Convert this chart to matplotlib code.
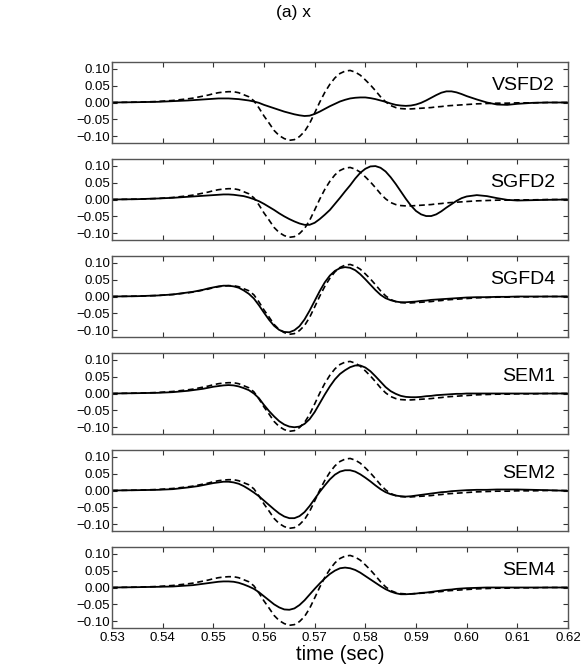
import matplotlib
matplotlib.use("Agg")
import matplotlib.pyplot as plt
from matplotlib.ticker import FuncFormatter
import numpy as np

plt.rcParams['font.family'] = ['Liberation Sans', 'DejaVu Sans']

# time samples (sec)
time = [0.530, 0.535, 0.539, 0.542,
        0.545, 0.546, 0.547, 0.548, 0.549, 0.550, 0.551, 0.552, 0.553, 0.554,
        0.555, 0.556, 0.557, 0.558, 0.559, 0.560, 0.561, 0.562, 0.563, 0.564,
        0.565, 0.566, 0.567, 0.568, 0.569, 0.570, 0.571, 0.572, 0.573, 0.574,
        0.575, 0.576, 0.577, 0.578, 0.579, 0.580, 0.581, 0.582, 0.583, 0.584,
        0.585, 0.586, 0.587, 0.588, 0.589, 0.590, 0.591, 0.592, 0.593, 0.594,
        0.595, 0.596, 0.597, 0.598, 0.599, 0.600,
        0.602, 0.604, 0.606, 0.608, 0.610, 0.613, 0.616, 0.620]

# reference solution (dashed, same in every panel)
reference = [0.000, 0.001, 0.003, 0.006,
             0.011, 0.013, 0.016, 0.019, 0.022, 0.026, 0.029, 0.031, 0.032, 0.032,
             0.029, 0.023, 0.017, 0.005, -0.016, -0.040, -0.061, -0.083, -0.098, -0.107,
             -0.112, -0.110, -0.101, -0.086, -0.062, -0.031, 0.001, 0.030, 0.054, 0.073,
             0.086, 0.093, 0.095, 0.090, 0.081, 0.067, 0.052, 0.035, 0.017, 0.002,
             -0.009, -0.015, -0.018, -0.019, -0.019, -0.018, -0.017, -0.016, -0.015, -0.013,
             -0.012, -0.010, -0.009, -0.008, -0.007, -0.006,
             -0.004, -0.003, -0.002, -0.002, -0.001, -0.001, 0.000, 0.000]

vsfd2 = [0.000, 0.001, 0.002, 0.004,
         0.006, 0.007, 0.008, 0.009, 0.010, 0.011, 0.012, 0.012, 0.012, 0.011,
         0.010, 0.008, 0.006, 0.003, -0.001, -0.007, -0.012, -0.017, -0.022, -0.027,
         -0.031, -0.035, -0.038, -0.040, -0.039, -0.034, -0.027, -0.019, -0.011, -0.004,
         0.003, 0.008, 0.012, 0.014, 0.015, 0.015, 0.013, 0.010, 0.006, 0.002,
         -0.003, -0.007, -0.009, -0.010, -0.009, -0.006, -0.001, 0.006, 0.014, 0.022,
         0.029, 0.033, 0.033, 0.030, 0.025, 0.019,
         0.009, 0.000, -0.006, -0.007, -0.004, -0.001, 0.000, 0.000]

sgfd2 = [0.000, 0.001, 0.003, 0.005,
         0.008, 0.009, 0.010, 0.011, 0.012, 0.013, 0.014, 0.015, 0.015, 0.014,
         0.012, 0.010, 0.006, 0.001, -0.005, -0.013, -0.022, -0.031, -0.041, -0.050,
         -0.058, -0.065, -0.071, -0.075, -0.075, -0.069, -0.058, -0.045, -0.031, -0.013,
         0.005, 0.024, 0.042, 0.062, 0.079, 0.091, 0.098, 0.099, 0.094, 0.083,
         0.066, 0.046, 0.024, 0.002, -0.018, -0.034, -0.044, -0.049, -0.049, -0.044,
         -0.035, -0.024, -0.014, -0.004, 0.004, 0.009,
         0.013, 0.010, 0.004, -0.001, -0.003, -0.002, -0.001, 0.000]

sgfd4 = [0.000, 0.001, 0.003, 0.006,
         0.012, 0.014, 0.017, 0.020, 0.024, 0.027, 0.030, 0.032, 0.032, 0.030,
         0.026, 0.018, 0.008, -0.006, -0.026, -0.048, -0.069, -0.087, -0.099, -0.105,
         -0.106, -0.100, -0.088, -0.068, -0.042, -0.013, 0.016, 0.042, 0.062, 0.076,
         0.084, 0.087, 0.085, 0.078, 0.066, 0.051, 0.035, 0.019, 0.005, -0.005,
         -0.011, -0.015, -0.017, -0.017, -0.016, -0.015, -0.013, -0.012, -0.010, -0.009,
         -0.008, -0.007, -0.006, -0.005, -0.004, -0.003,
         -0.002, -0.002, -0.001, -0.001, 0.000, 0.000, 0.000, 0.000]

sem1 = [0.000, 0.001, 0.002, 0.004,
        0.008, 0.010, 0.012, 0.014, 0.017, 0.020, 0.022, 0.024, 0.025, 0.024,
        0.021, 0.016, 0.010, 0.000, -0.014, -0.034, -0.052, -0.068, -0.082, -0.092,
        -0.098, -0.100, -0.098, -0.090, -0.076, -0.055, -0.029, -0.003, 0.021, 0.042,
        0.058, 0.069, 0.078, 0.083, 0.083, 0.077, 0.066, 0.051, 0.035, 0.019,
        0.007, -0.001, -0.007, -0.010, -0.011, -0.011, -0.010, -0.008, -0.007, -0.005,
        -0.004, -0.003, -0.002, -0.001, -0.001, 0.000,
        0.000, 0.000, 0.000, 0.000, 0.000, 0.000, 0.000, 0.000]

sem2 = [0.000, 0.001, 0.002, 0.004,
        0.009, 0.011, 0.013, 0.016, 0.019, 0.022, 0.024, 0.026, 0.026, 0.024,
        0.020, 0.013, 0.004, -0.006, -0.017, -0.030, -0.043, -0.056, -0.068, -0.077,
        -0.082, -0.082, -0.076, -0.064, -0.046, -0.025, -0.004, 0.015, 0.033, 0.047,
        0.056, 0.060, 0.060, 0.056, 0.048, 0.038, 0.027, 0.015, 0.004, -0.005,
        -0.011, -0.015, -0.017, -0.018, -0.017, -0.015, -0.013, -0.011, -0.009, -0.007,
        -0.005, -0.004, -0.002, -0.001, 0.000, 0.001,
        0.002, 0.002, 0.003, 0.003, 0.003, 0.002, 0.001, -0.001]

sem4 = [0.000, 0.001, 0.002, 0.003,
        0.006, 0.007, 0.009, 0.011, 0.013, 0.015, 0.017, 0.018, 0.018, 0.017,
        0.014, 0.009, 0.003, -0.004, -0.014, -0.026, -0.038, -0.050, -0.059, -0.065,
        -0.066, -0.062, -0.052, -0.038, -0.021, -0.004, 0.012, 0.027, 0.040, 0.050,
        0.057, 0.059, 0.057, 0.052, 0.044, 0.034, 0.024, 0.014, 0.004, -0.005,
        -0.012, -0.017, -0.020, -0.020, -0.019, -0.018, -0.016, -0.015, -0.013, -0.011,
        -0.009, -0.007, -0.006, -0.004, -0.003, -0.002,
        -0.001, 0.000, 0.000, 0.000, 0.000, 0.000, 0.000, 0.000]

methods = ['VSFD2', 'SGFD2', 'SGFD4', 'SEM1', 'SEM2', 'SEM4']
solutions = [vsfd2, sgfd2, sgfd4, sem1, sem2, sem4]


def fmt(v, pos):
    s = '%.2f' % abs(v)
    return ('\u2212' + s) if v < -1e-9 else s


W, H = 588, 671
fig = plt.figure(figsize=(W / 100, H / 100), dpi=100)

left, right = 112, 568
top0, step, ph = 62, 97, 81

for i, (name, sol) in enumerate(zip(methods, solutions)):
    top = top0 + i * step
    ax = fig.add_axes([left / W, 1 - (top + ph) / H, (right - left) / W, ph / H])
    ax.plot(time, reference, color='black', lw=1.2, ls=(0, (3.5, 2.2)))
    ax.plot(time, sol, color='black', lw=1.3)
    ax.set_xlim(0.53, 0.62)
    ax.set_ylim(-0.12, 0.12)
    ax.set_xticks(np.arange(0.53, 0.6201, 0.01))
    ax.set_yticks([-0.10, -0.05, 0.0, 0.05, 0.10])
    ax.xaxis.set_major_formatter(FuncFormatter(fmt))
    ax.yaxis.set_major_formatter(FuncFormatter(fmt))
    ax.tick_params(direction='in', top=True, right=True, length=3.5, width=0.8,
                   labelsize=9.5, pad=1.5, colors='#333333', labelcolor='black')
    for sp in ax.spines.values():
        sp.set_color('#555555')
        sp.set_linewidth(1.0)
    if i < len(methods) - 1:
        ax.tick_params(labelbottom=False)
    else:
        ax.tick_params(axis='x', pad=3)
    ax.text(0.972, 0.71, name, transform=ax.transAxes, ha='right', va='center',
            fontsize=14)

fig.text(0.5, 1 - 13 / H, '(a) x', ha='center', va='center', fontsize=12.5)
fig.text((left + right) / 2 / W, 1 - 655 / H, 'time (sec)', ha='center',
         va='center', fontsize=14.5)

fig.savefig('out.png', dpi=100)
